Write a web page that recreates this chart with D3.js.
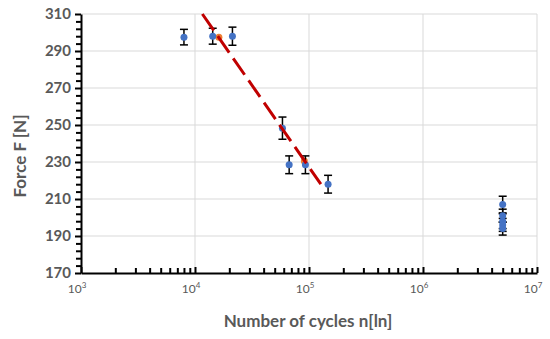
<!DOCTYPE html>
<html>
<head>
<meta charset="utf-8">
<script src="https://cdn.jsdelivr.net/npm/d3@7"></script>
<style>
  body { margin: 0; background: #fff; }
  text { font-family: Lato, "Open Sans", sans-serif; fill: #595959; }
</style>
</head>
<body>
<div id="chart"></div>
<script>
// measured points (cycles, force, error)
const cycles = [8000, 14300, 21300, 58500, 67000, 93000, 147000, 5000000, 5000000, 5000000, 5000000, 5000000];
const force  = [297.5, 298, 298, 248.3, 228.5, 228.5, 218, 207, 201, 198, 196, 194];
const errs   = [4.2, 4.3, 4.9, 6, 4.8, 4.8, 4.8, 4.5, 3.5, 4, 3.5, 3.5];
// orange series
const meanCycles = [16200, 91000];
const meanForce  = [297.5, 230.5];
// trend line ends
const trendCycles = [11600, 127000];
const trendForce  = [310, 218];
const yTicks = [170, 190, 210, 230, 250, 270, 290, 310];
const xTicks = [3, 4, 5, 6, 7];

let width = 550,
    height = 339;

const svg = d3.select("#chart").append("svg")
    .attr("width", width)
    .attr("height", height);

const x = d3.scaleLog().domain([1e3, 1e7]).range([81, 537]);
const y = d3.scaleLinear().domain([170, 310]).range([273, 14]);

// grid
svg.append("g").selectAll("line")
    .data(yTicks.slice(1))
    .enter().append("line")
    .attr("x1", 81).attr("x2", 537)
    .attr("y1", d => y(d)).attr("y2", d => y(d))
    .attr("stroke", "#d9d9d9").attr("stroke-width", 1);

svg.append("g").selectAll("line")
    .data(xTicks.slice(1))
    .enter().append("line")
    .attr("x1", d => x(Math.pow(10, d))).attr("x2", d => x(Math.pow(10, d)))
    .attr("y1", y(310)).attr("y2", y(170))
    .attr("stroke", "#d9d9d9").attr("stroke-width", 1);

// y axis
const minorY = d3.range(170, 310, 4).filter(d => (d - 170) % 20 !== 0);
svg.append("g")
    .attr("transform", "translate(81,0)")
    .call(d3.axisLeft(y).tickValues(minorY).tickSize(5).tickFormat(""))
    .call(g => g.select(".domain").remove())
    .selectAll("line").attr("stroke", "#000").attr("stroke-width", 2);

const yAxis = svg.append("g")
    .attr("transform", "translate(81,0)")
    .call(d3.axisLeft(y).tickValues(yTicks).tickSize(6).tickPadding(4).tickSizeOuter(0));
yAxis.select(".domain").attr("stroke", "#000").attr("stroke-width", 2);
yAxis.selectAll("line").attr("stroke", "#000").attr("stroke-width", 2);
yAxis.selectAll("text")
    .style("font-family", "Lato, sans-serif")
    .style("font-size", "15px").style("font-weight", "bold").attr("fill", "#595959");

// x axis, ticks pointing up
const minorX = [];
for (let e = 3; e < 7; e++) for (let m = 2; m <= 9; m++) minorX.push(m * Math.pow(10, e));
svg.append("g")
    .attr("transform", "translate(0,273)")
    .call(d3.axisTop(x).tickValues(minorX).tickSize(5).tickFormat(""))
    .call(g => g.select(".domain").remove())
    .selectAll("line").attr("stroke", "#000").attr("stroke-width", 2);

const xAxis = svg.append("g")
    .attr("transform", "translate(0,273)")
    .call(d3.axisTop(x).tickValues(xTicks.map(d => Math.pow(10, d))).tickSize(6).tickSizeOuter(0).tickFormat(""));
xAxis.select(".domain").attr("stroke", "#000").attr("stroke-width", 2);
xAxis.selectAll("line").attr("stroke", "#000").attr("stroke-width", 2);

const xl = svg.append("g").selectAll("text")
    .data(xTicks)
    .enter().append("text")
    .attr("x", d => x(Math.pow(10, d)) - 4)
    .attr("y", 293)
    .attr("text-anchor", "middle")
    .style("font-size", "12px")
    .text("10");
xl.append("tspan")
    .attr("dy", -5)
    .style("font-size", "8px")
    .text(d => d);

// orange series
svg.append("g").selectAll("circle")
    .data(meanCycles)
    .enter().append("circle")
    .attr("cx", d => x(d))
    .attr("cy", (d, i) => y(meanForce[i]))
    .attr("r", 3.5)
    .attr("fill", "#ED7D31");

// error bars
const eb = svg.append("g").selectAll("g")
    .data(cycles)
    .enter().append("g");
eb.append("line")
    .attr("x1", d => x(d)).attr("x2", d => x(d))
    .attr("y1", (d, i) => y(force[i] + errs[i]))
    .attr("y2", (d, i) => y(force[i] - errs[i]))
    .attr("stroke", "#000").attr("stroke-width", 1.5);
[1, -1].forEach(s => {
  eb.append("line")
      .attr("x1", d => x(d) - 4).attr("x2", d => x(d) + 4)
      .attr("y1", (d, i) => y(force[i] + s * errs[i]))
      .attr("y2", (d, i) => y(force[i] + s * errs[i]))
      .attr("stroke", "#000").attr("stroke-width", 1.5);
});

// blue points
svg.append("g").selectAll("circle")
    .data(cycles)
    .enter().append("circle")
    .attr("cx", d => x(d))
    .attr("cy", (d, i) => y(force[i]))
    .attr("r", 3.5)
    .attr("fill", "#4472C4");

// trend line
svg.append("line")
    .attr("x1", x(trendCycles[0])).attr("y1", y(trendForce[0]))
    .attr("x2", x(trendCycles[1])).attr("y2", y(trendForce[1]))
    .attr("stroke", "#C00000")
    .attr("stroke-width", 3)
    .attr("stroke-dasharray", "20,7");

// axis titles
svg.append("text")
    .attr("transform", "translate(26,156) rotate(-90)")
    .attr("text-anchor", "middle")
    .style("font-size", "17px").style("font-weight", "bold")
    .text("Force F [N]");

svg.append("text")
    .attr("x", 308).attr("y", 327)
    .attr("text-anchor", "middle")
    .style("font-size", "17px").style("font-weight", "bold")
    .text("Number of cycles n[ln]");
</script>
</body>
</html>
